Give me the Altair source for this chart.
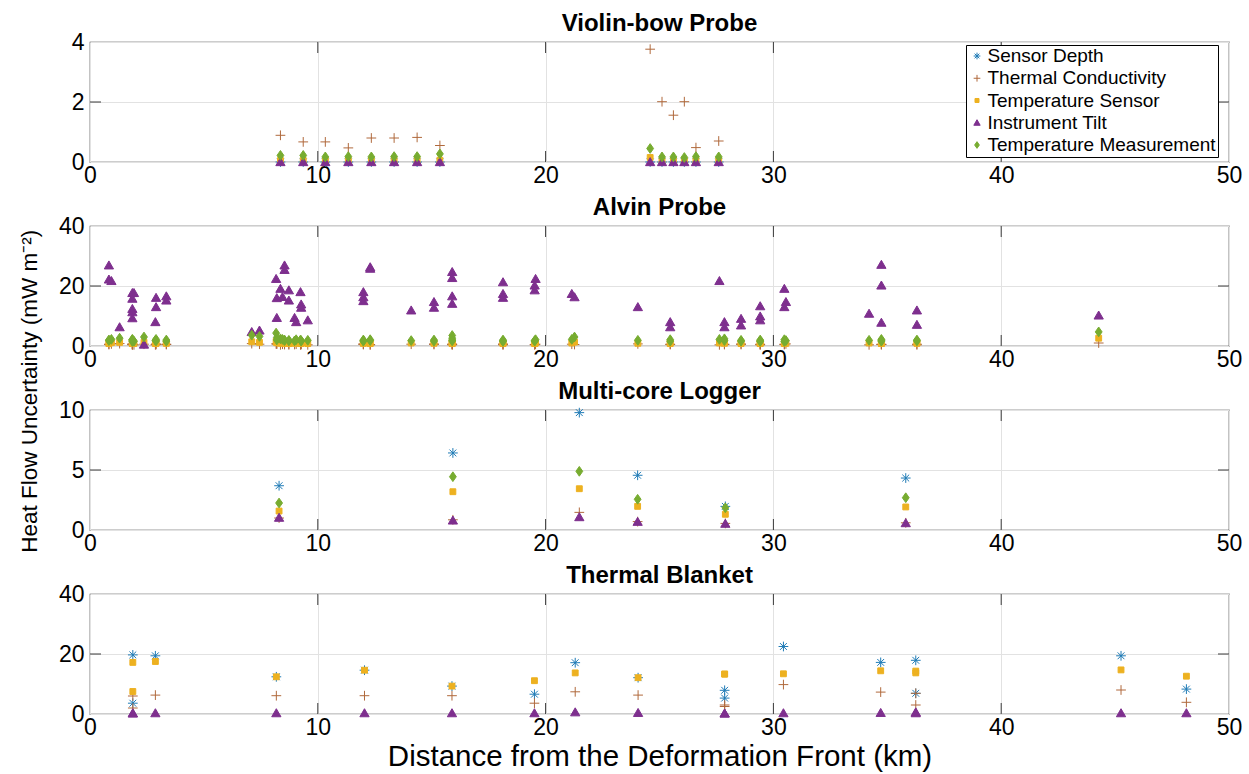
import altair as alt
import pandas as pd

SERIES = ["Sensor Depth", "Thermal Conductivity", "Temperature Sensor",
          "Instrument Tilt", "Temperature Measurement"]
COLORS = ["#1F7BB6", "#B0693C", "#EDB120", "#7E2F8E", "#77AC30"]
SHAPES = [
    "M-1,0L1,0M0,-1L0,1M-0.7,-0.7L0.7,0.7M-0.7,0.7L0.7,-0.7",   # asterisk
    "M-1,0L1,0M0,-1L0,1",                                     # plus
    "M-0.6,-0.6L0.6,-0.6L0.6,0.6L-0.6,0.6Z",                  # square
    "M0,-0.9L0.95,0.75L-0.95,0.75Z",                           # triangle
    "M0,-1L0.7,0L0,1L-0.7,0Z",                                 # diamond
]
FONT = "Liberation Sans"
FRAME = "#3a3a3a"
W, H = 1139, 120
X_LABELS = [0, 10, 20, 30, 40, 50]
X_INNER = [10, 20, 30, 40]

# ---------------- Violin-bow Probe ----------------
vb_x = [8.36, 9.36, 10.33, 11.34, 12.35, 13.35, 14.36, 15.36,
        24.59, 25.11, 25.61, 26.09, 26.60, 27.60]
vb_sd = [0.0, 0.0, 0.0, 0.0, 0.0, 0.0, 0.0, 0.0, 0.0, 0.0, 0.0, 0.0, 0.0, 0.0]
vb_tc = [0.89, 0.67, 0.67, 0.47, 0.80, 0.80, 0.82, 0.55,
         3.76, 2.01, 1.56, 2.01, 0.48, 0.70]
vb_ts = [0.05, 0.05, 0.04, 0.05, 0.04, 0.05, 0.05, 0.06,
         0.15, 0.04, 0.05, 0.04, 0.05, 0.04]
vb_it = [0.0, 0.0, 0.0, 0.0, 0.0, 0.0, 0.0, 0.0,
         0.0, 0.0, 0.0, 0.0, 0.0, 0.0]
vb_tm = [0.22, 0.22, 0.17, 0.18, 0.17, 0.18, 0.18, 0.27,
         0.45, 0.17, 0.17, 0.15, 0.18, 0.17]

# ---------------- Alvin Probe ----------------
al_x = [0.83, 0.83, 0.94, 1.30, 1.86, 1.93, 1.86, 1.86, 1.86, 1.86,
        2.37, 2.90, 2.90, 2.87, 3.35, 3.35, 7.10, 7.44, 8.17, 8.54,
        8.54, 8.36, 8.73, 8.20, 8.45, 8.73, 9.24, 9.27, 9.27, 8.20,
        8.98, 9.05, 9.56, 12.00, 12.00, 12.00, 12.30, 12.30, 14.10, 15.10,
        15.10, 15.90, 15.90, 15.90, 15.90, 18.13, 18.13, 18.13, 19.56, 19.52,
        19.52, 21.15, 21.27, 24.05, 25.47, 25.47, 27.63, 27.85, 27.85, 28.58,
        28.58, 29.42, 29.42, 29.42, 30.48, 30.55, 30.48, 34.20, 34.74, 34.74,
        34.74, 36.30, 36.30, 44.28]
al_it = [26.9, 22.2, 21.7, 6.3, 17.7, 17.7, 15.8, 12.4, 11.3, 9.3,
         0.5, 16.1, 13.0, 8.0, 16.6, 15.2, 4.7, 5.2, 22.4, 26.9,
         25.4, 19.1, 18.6, 16.0, 16.4, 15.2, 18.0, 13.9, 12.8, 9.4,
         9.4, 8.0, 8.6, 18.0, 16.3, 15.0, 26.3, 25.8, 11.9, 14.7,
         12.8, 24.7, 22.7, 16.6, 14.1, 21.3, 17.4, 16.1, 22.4, 20.2,
         18.6, 17.4, 16.3, 13.0, 8.0, 6.3, 21.7, 8.0, 6.3, 9.1,
         6.9, 13.3, 9.9, 8.6, 19.1, 14.7, 13.0, 10.8, 27.1, 20.2,
         7.8, 11.9, 7.1, 10.2]
al_tm = [2.0, 1.8, 2.2, 2.6, 2.0, 1.6, 2.2, 1.9, 1.5, 2.1,
         3.0, 2.2, 1.7, 1.9, 2.0, 1.6, 3.6, 3.2, 4.3, 2.0,
         1.8, 2.4, 1.9, 2.8, 2.2, 1.7, 2.0, 1.8, 1.6, 2.0,
         1.7, 2.1, 1.9, 2.0, 1.8, 1.6, 2.1, 1.8, 1.8, 2.0,
         1.6, 3.5, 2.6, 2.0, 1.7, 2.0, 1.7, 1.5, 2.1, 1.8,
         1.6, 2.2, 3.0, 1.9, 2.1, 1.6, 2.2, 2.4, 1.8, 1.9,
         1.6, 2.0, 1.7, 1.5, 2.1, 1.8, 1.5, 1.9, 2.2, 1.8,
         1.6, 2.0, 1.7, 4.7]
al_tc = [0.6, 0.5, 0.7, 0.8, 0.5, 0.4, 0.6, 0.5, 0.7, 0.4,
         0.6, 0.5, 0.7, 0.4, 0.6, 0.5, 0.8, 0.6, 0.7, 0.5,
         0.6, 0.4, 0.5, 0.7, 0.6, 0.5, 0.4, 0.6, 0.5, 0.7,
         0.5, 0.6, 0.4, 0.5, 0.7, 0.6, 0.5, 0.4, 0.6, 0.5,
         0.7, 0.6, 0.5, 0.4, 0.6, 0.5, 0.7, 0.4, 0.6, 0.5,
         0.4, 0.6, 0.5, 0.7, 0.5, 0.6, 0.4, 0.6, 0.5, 0.7,
         0.5, 0.6, 0.4, 0.5, 0.6, 0.7, 0.5, 0.4, 0.6, 0.5,
         0.5, 0.6, 0.4, 1.0]
al_ts = [1.0, 0.8, 1.1, 1.2, 0.9, 0.8, 1.0, 0.9, 1.1, 0.8,
         1.2, 1.0, 0.9, 0.8, 1.0, 0.9, 1.4, 1.2, 1.5, 0.9,
         1.0, 0.9, 0.8, 1.1, 1.0, 0.9, 0.8, 1.0, 0.9, 1.1,
         0.9, 1.0, 0.8, 0.9, 1.1, 1.0, 0.9, 0.8, 1.0, 0.9,
         1.1, 1.2, 1.0, 0.9, 0.8, 1.0, 0.9, 0.8, 1.0, 0.9,
         0.8, 1.0, 1.3, 0.9, 1.0, 0.8, 1.0, 1.1, 0.9, 1.0,
         0.8, 1.0, 0.9, 0.8, 1.0, 0.9, 0.8, 1.0, 1.1, 0.9,
         0.8, 1.0, 0.9, 2.6]

# ---------------- Multi-core Logger ----------------
mc_x = [8.30, 15.93, 21.48, 24.04, 27.89, 35.81]
mc_sd = [3.69, 6.42, 9.78, 4.56, 1.97, 4.33]
mc_tc = [1.00, 0.85, 1.47, 0.70, 0.55, 0.60]
mc_ts = [1.58, 3.19, 3.44, 1.97, 1.31, 1.92]
mc_it = [1.03, 0.80, 1.08, 0.69, 0.53, 0.58]
mc_tm = [2.25, 4.44, 4.89, 2.56, 1.85, 2.69]

# ---------------- Thermal Blanket ----------------
tb_x = [1.88, 1.88, 2.87, 8.18, 12.05, 15.89, 19.51, 21.30, 24.06,
        27.86, 27.86, 30.44, 34.71, 36.25, 36.25, 45.26, 48.13]
tb_sd = [19.7, 3.6, 19.4, 12.4, 14.6, 9.3, 6.6, 17.1, 12.1,
         7.9, 5.3, 22.5, 17.2, 17.9, 6.9, 19.4, 8.3]
tb_tc = [6.0, 2.0, 6.3, 6.1, 6.1, 6.1, 3.6, 7.4, 6.3,
         3.0, 2.5, 9.8, 7.3, 6.9, 3.0, 8.0, 3.9]
tb_ts = [17.2, 7.5, 17.5, 12.4, 14.6, 9.3, 11.1, 13.7, 12.1,
         13.3, 13.3, 13.4, 14.4, 14.3, 13.7, 14.7, 12.6]
tb_it = [0.3, 0.2, 0.3, 0.3, 0.3, 0.3, 0.3, 0.6, 0.4,
         0.2, 0.2, 0.3, 0.4, 0.6, 0.3, 0.3, 0.3]


def long_df(x, values):
    rows = []
    for k, name in enumerate(SERIES):
        vals = values.get(name)
        if vals is None:
            continue
        for xi, v in zip(x, vals):
            rows.append({"x": xi, "value": v, "series": name, "order": k})
    return pd.DataFrame(rows)


def panel(df, title, ymax, yticks, ymid, legend=False, xtitle=None):
    xs = alt.Scale(domain=[0, 50], nice=False, zero=False)
    ys = alt.Scale(domain=[0, ymax], nice=False, zero=False)
    xaxis = alt.Axis(values=X_LABELS, title=xtitle, labelPadding=2,
                     titleFontSize=29.5, titleFontWeight="normal", titlePadding=3,
                     titleFont=FONT, titleColor="#000")
    yaxis = alt.Axis(values=yticks, title=None, labelPadding=6)
    if legend:
        leg = alt.Legend(title=None, orient="none", legendX=876, legendY=3,
                         fillColor="white", strokeColor="#000", padding=1.5,
                         labelFont=FONT, labelFontSize=19, labelColor="#000",
                         labelLimit=0, symbolSize=45, symbolStrokeWidth=1,
                         rowPadding=2.25, labelOffset=1)
    else:
        leg = None
    cs = alt.Scale(domain=SERIES, range=COLORS)
    pts = alt.Chart(df).mark_point(size=95, strokeWidth=1, opacity=1).encode(
        x=alt.X("x:Q", scale=xs, axis=xaxis),
        y=alt.Y("value:Q", scale=ys, axis=yaxis),
        fill=alt.Fill("series:N", scale=cs, legend=leg),
        stroke=alt.Stroke("series:N", scale=cs, legend=leg),
        shape=alt.Shape("series:N", scale=alt.Scale(domain=SERIES, range=SHAPES), legend=leg),
        order=alt.Order("order:Q"),
    )
    xt_df = pd.DataFrame({"x": X_INNER})
    yt_df = pd.DataFrame({"value": [ymid]})
    xt_top = alt.Chart(xt_df).mark_rule(color=FRAME, strokeWidth=1).encode(
        x=alt.X("x:Q", scale=xs, axis=xaxis), y=alt.value(0), y2=alt.value(11))
    xt_bot = alt.Chart(xt_df).mark_rule(color=FRAME, strokeWidth=1).encode(
        x=alt.X("x:Q", scale=xs, axis=xaxis), y=alt.value(H - 11), y2=alt.value(H))
    yt_l = alt.Chart(yt_df).mark_rule(color=FRAME, strokeWidth=1).encode(
        y=alt.Y("value:Q", scale=ys, axis=yaxis), x=alt.value(0), x2=alt.value(11))
    yt_r = alt.Chart(yt_df).mark_rule(color=FRAME, strokeWidth=1).encode(
        y=alt.Y("value:Q", scale=ys, axis=yaxis), x=alt.value(W - 11), x2=alt.value(W))
    return alt.layer(xt_top, xt_bot, yt_l, yt_r, pts).properties(
        width=W, height=H,
        title=alt.TitleParams(title, font=FONT, fontSize=24, fontWeight="bold",
                              color="#000", offset=-5, anchor="middle"))


p1 = panel(long_df(vb_x, {"Sensor Depth": vb_sd, "Thermal Conductivity": vb_tc,
                          "Temperature Sensor": vb_ts, "Instrument Tilt": vb_it,
                          "Temperature Measurement": vb_tm}),
           "Violin-bow Probe", 4, [0, 2, 4], 2, legend=True)
p2 = panel(long_df(al_x, {"Thermal Conductivity": al_tc, "Temperature Sensor": al_ts,
                          "Instrument Tilt": al_it, "Temperature Measurement": al_tm}),
           "Alvin Probe", 40, [0, 20, 40], 20)
p3 = panel(long_df(mc_x, {"Sensor Depth": mc_sd, "Thermal Conductivity": mc_tc,
                          "Temperature Sensor": mc_ts, "Instrument Tilt": mc_it,
                          "Temperature Measurement": mc_tm}),
           "Multi-core Logger", 10, [0, 5, 10], 5)
p4 = panel(long_df(tb_x, {"Sensor Depth": tb_sd, "Thermal Conductivity": tb_tc,
                          "Temperature Sensor": tb_ts, "Instrument Tilt": tb_it}),
           "Thermal Blanket", 40, [0, 20, 40], 20,
           xtitle="Distance from the Deformation Front (km)")

chart = alt.vconcat(p1, p2, p3, p4, spacing=7).resolve_scale(
    x="independent", y="independent", fill="independent",
    stroke="independent", shape="independent"
).properties(
    title=alt.TitleParams("Heat Flow Uncertainty (mW m\u207b\u00b2)", orient="left",
                          anchor="middle", font=FONT, fontSize=22.5,
                          fontWeight="normal", color="#000", offset=16),
    padding={"left": 19, "top": 11, "right": 5, "bottom": 0},
    background="white",
).configure_view(stroke=FRAME, strokeWidth=1.2).configure_axis(
    domain=False, ticks=False, grid=True, gridColor="#e2e2e2", gridWidth=1,
    labelFont=FONT, labelFontSize=23, labelColor="#000", labelFlush=False
)

chart.save("out.html", embed_options={"renderer": "svg", "actions": False})
